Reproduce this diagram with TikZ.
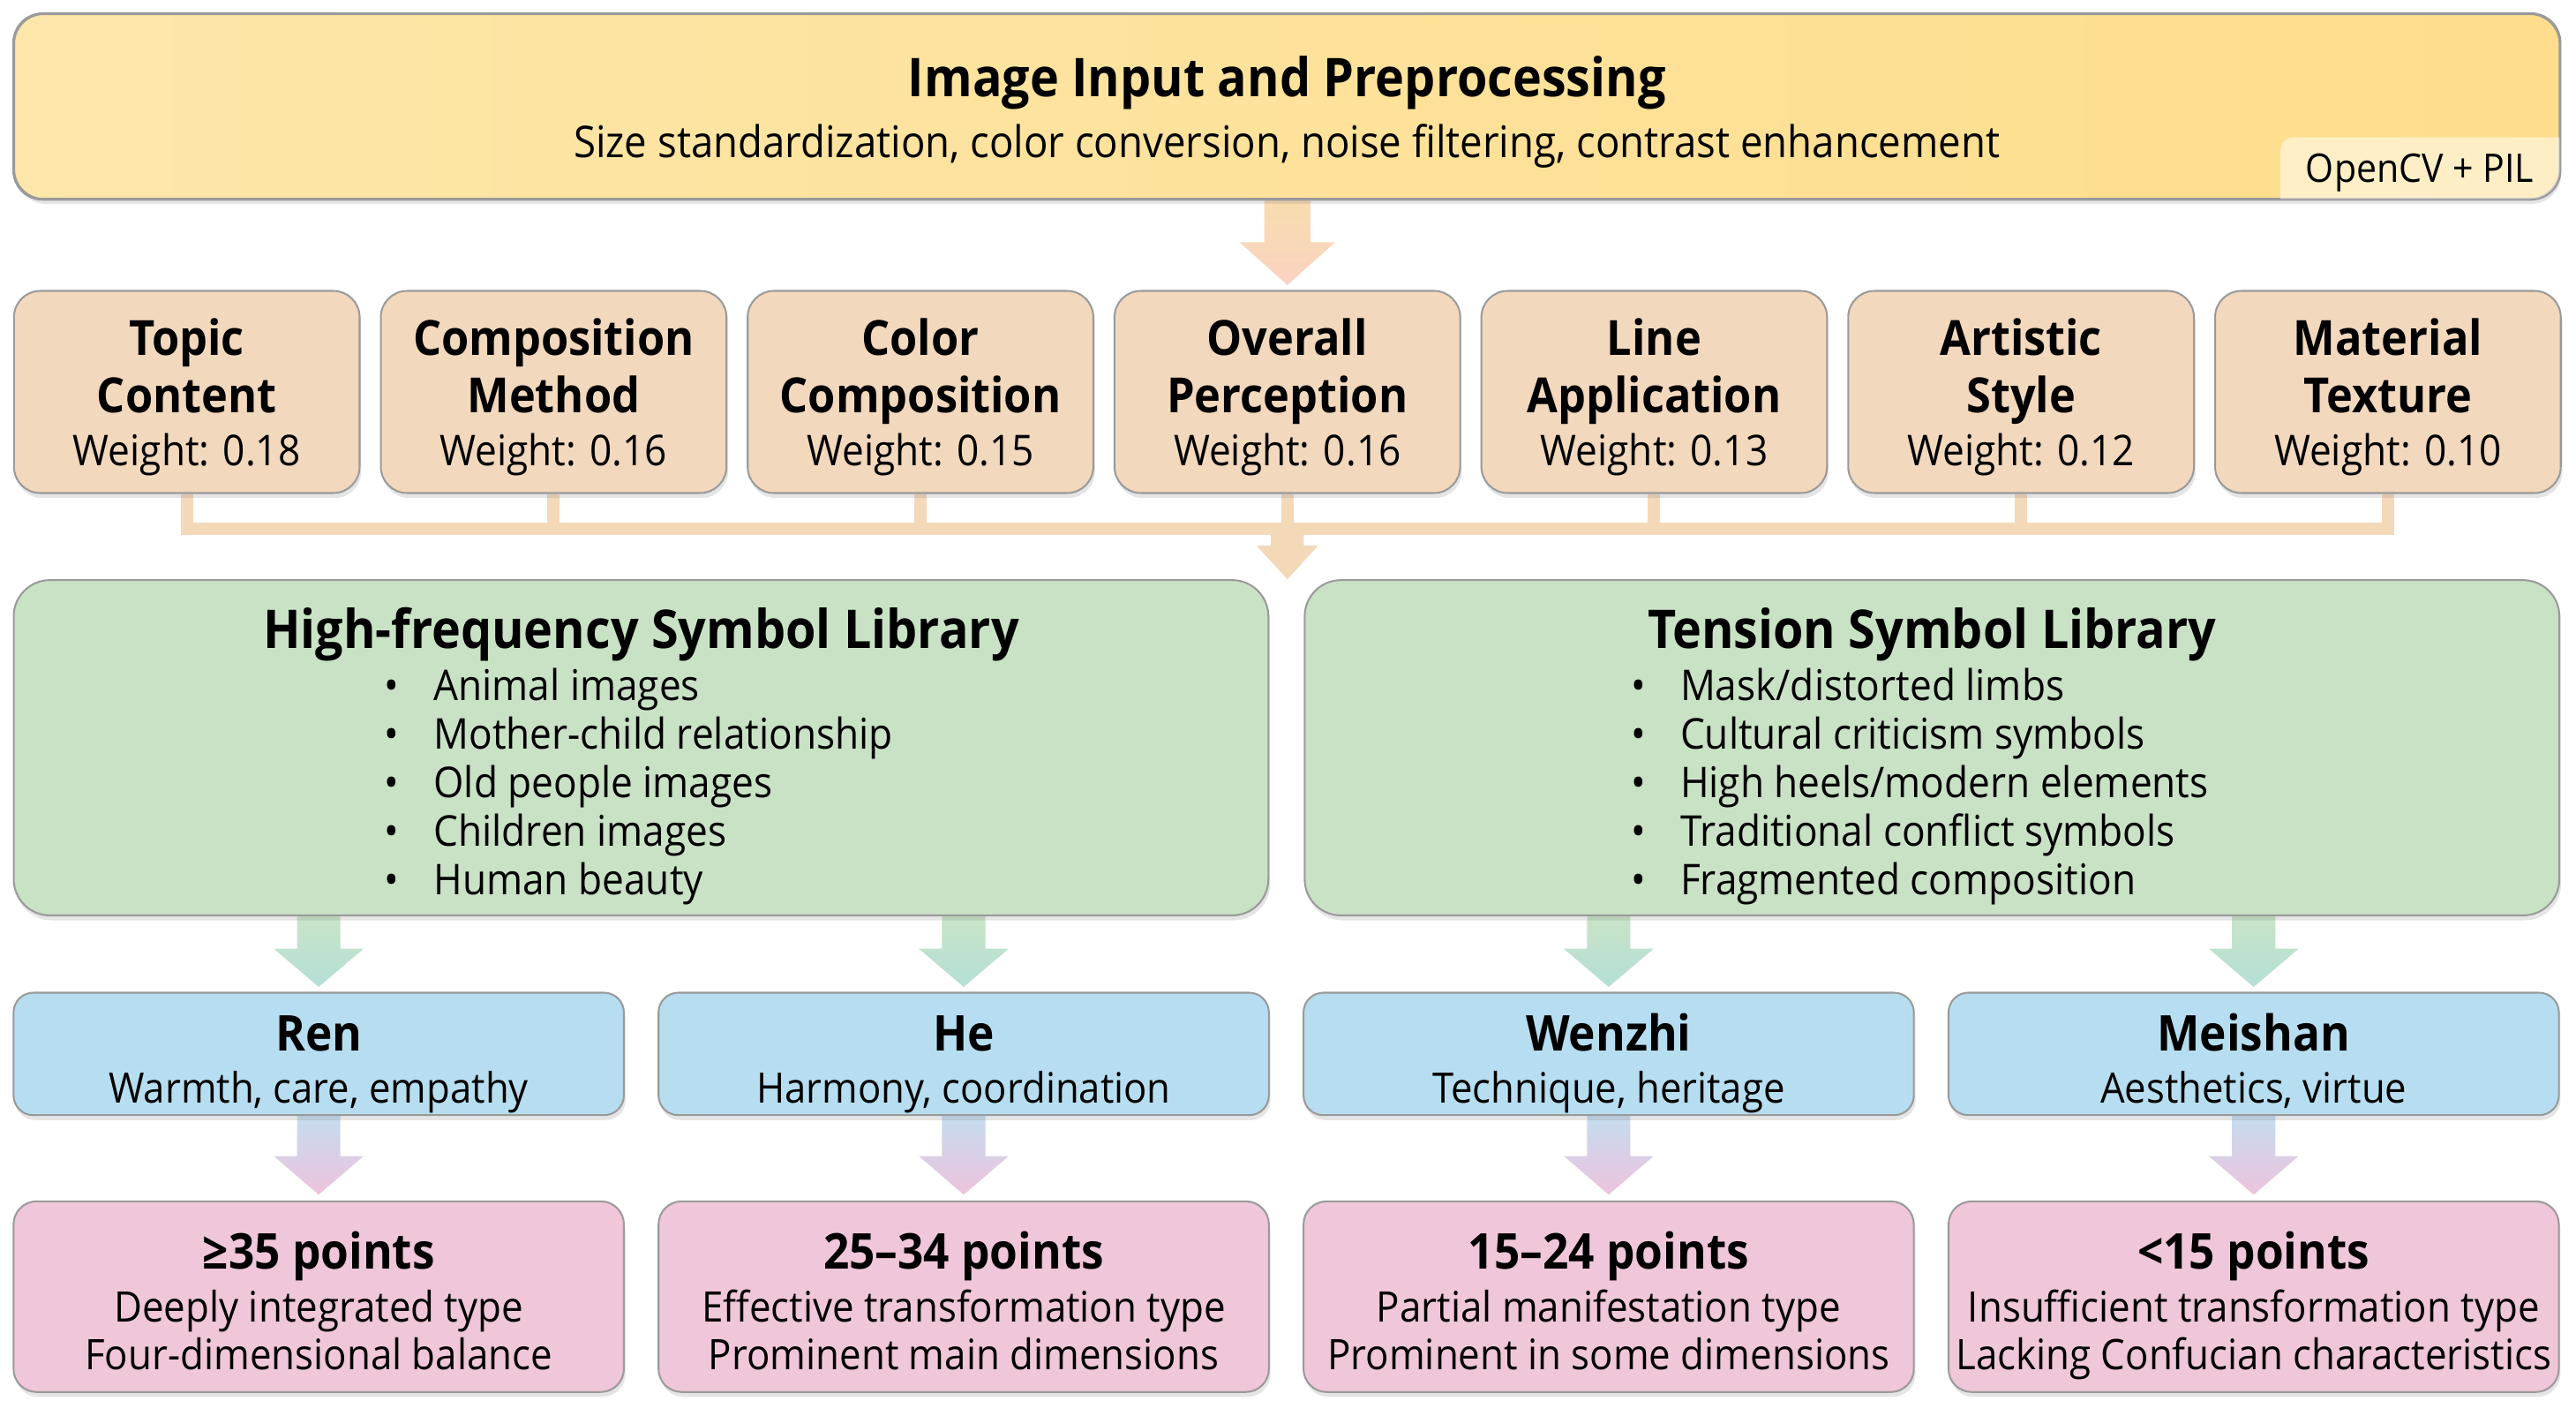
\documentclass[tikz,border=0pt]{standalone}
\usepackage{fontspec}
\setmainfont{Open Sans}[FakeStretch=0.92]
\usetikzlibrary{shadows,calc}
\pgfdeclarelayer{background}
\pgfsetlayers{background,main}

\definecolor{topA}{HTML}{FDE6A9}
\definecolor{topB}{HTML}{FEDE8D}
\definecolor{peach}{HTML}{F2D8BD}
\definecolor{barc}{HTML}{F4D9B9}
\definecolor{greenfill}{HTML}{C9E2C5}
\definecolor{bluefill}{HTML}{B7DEF0}
\definecolor{pinkfill}{HTML}{EFC6DA}
\definecolor{edgec}{HTML}{9A9A9A}
\definecolor{arrA}{HTML}{F8DCAE}
\definecolor{arrB}{HTML}{FAD3C2}
\definecolor{garrA}{HTML}{C9E4C7}
\definecolor{garrB}{HTML}{B4DFD6}
\definecolor{parrA}{HTML}{C5DCEF}
\definecolor{parrB}{HTML}{EDC3DC}

\newcommand\blockarrow[6]{%
  \path[#6] ($(#1)+(-#3,0)$) -- ($(#2)+(-#3,-#5)$) -- ($(#2)+(-#4,-#5)$) -- (#2)
    -- ($(#2)+(#4,-#5)$) -- ($(#2)+(#3,-#5)$) -- ($(#1)+(#3,0)$) -- cycle;}

\tikzset{
  box/.style={draw=edgec, line width=1.1pt, inner sep=0pt,
    drop shadow={opacity=0.2, shadow xshift=1pt, shadow yshift=-3pt}},
  topbox/.style={box, rounded corners=18pt, left color=topA, right color=topB,
    minimum width=1549.4pt, minimum height=112.4pt},
  catbox/.style={box, rounded corners=16pt, fill=peach, minimum width=210.4pt, minimum height=123pt},
  greenbox/.style={box, rounded corners=22pt, fill=greenfill, minimum width=763.7pt, minimum height=204pt},
  bluebox/.style={box, rounded corners=12pt, fill=bluefill, minimum width=371.5pt, minimum height=74.5pt},
  pinkbox/.style={box, rounded corners=14pt, fill=pinkfill, minimum width=371.5pt, minimum height=116pt},
  txt/.style={inner sep=0pt, anchor=base, text=black},
  bigtitle/.style={txt, font=\fontsize{32.5}{38}\selectfont\bfseries},
  subtext/.style={txt, font=\fontsize{26.6}{30}\selectfont},
  cattitle/.style={txt, font=\fontsize{29.5}{34}\selectfont\bfseries},
  catweight/.style={txt, font=\fontsize{25.8}{30}\selectfont},
  itemtext/.style={txt, anchor=base west, font=\fontsize{25.8}{29.5}\selectfont},
  bluetitle/.style={txt, font=\fontsize{30}{34}\selectfont\bfseries},
  bluesub/.style={txt, font=\fontsize{25.5}{30}\selectfont},
  pinktitle/.style={txt, font=\fontsize{30}{34}\selectfont\bfseries},
  pinksub/.style={txt, font=\fontsize{25.6}{30}\selectfont},
  tagtext/.style={txt, anchor=base east, font=\fontsize{24}{28}\selectfont},
  barline/.style={draw=barc, line width=7.5pt},
  toparrow/.style={top color=arrA, bottom color=arrB},
  greenarrow/.style={top color=garrA, bottom color=garrB},
  pinkarrow/.style={top color=parrA, bottom color=parrB}
}
\newcommand\bul{\makebox[30pt][l]{\textbullet}}

\begin{document}
\begin{tikzpicture}[x=1pt,y=-1pt]
\useasboundingbox (0,0) rectangle (1568,861.6);
\begin{pgfonlayer}{background}
  \fill[white] (0,0) rectangle (1568,861.6);
\end{pgfonlayer}

% top box
\node[topbox] (top) at (783.3,64.8) {};
\begin{scope}
  \clip[rounded corners=18pt] (top.south west) rectangle (top.north east);
  \fill[white, fill opacity=0.5, rounded corners=8pt] ($(top.south east)+(-170.4,-38)$) rectangle ($(top.south east)+(30,30)$);
\end{scope}
\draw[edgec, line width=1.1pt, rounded corners=18pt] (top.south west) rectangle (top.north east);
\node[bigtitle] (toptitle) at ($(top.north)+(0,51)$) {Image Input and Preprocessing};
\node[subtext] (topsub) at ($(top.north)+(0,88)$) {Size standardization, color conversion, noise filtering, contrast enhancement};
\node[tagtext] (tag) at ($(top.south east)+(-16,-10.5)$) {OpenCV + PIL};

% category boxes
\foreach \i/\a/\b/\w in {1/Topic/Content/0.18, 2/Composition/Method/0.16, 3/Color/Composition/0.15,
  4/Overall/Perception/0.16, 5/Line/Application/0.13, 6/Artistic/Style/0.12, 7/Material/Texture/0.10}{
  \node[catbox] (c\i) at ({113.7+223.3*(\i-1)},238.5) {};
  \node[cattitle] (c\i a) at ($(c\i.north)+(0,40)$) {\a};
  \node[cattitle] (c\i b) at ($(c\i.north)+(0,74.5)$) {\b};
  \node[catweight] (c\i w) at ($(c\i.north)+(0,107)$) {Weight: \w};
}

% green boxes
\node[greenbox] (gl) at (390.2,455) {};
\node[greenbox] (gr) at (1176,455) {};
\node[bigtitle] (gltitle) at ($(gl.north)+(0,42)$) {High-frequency Symbol Library};
\node[bigtitle] (grtitle) at ($(gr.north)+(0,42)$) {Tension Symbol Library};
\foreach \k/\it in {0/Animal images, 1/Mother-child relationship, 2/Old people images, 3/Children images, 4/Human beauty}
  \node[itemtext] (gli\k) at ($(gl.north west)+(226,{73.7+29.5*\k})$) {\bul\it};
\foreach \k/\it in {0/Mask\slash distorted limbs, 1/Cultural criticism symbols, 2/High heels\slash modern elements, 3/Traditional conflict symbols, 4/Fragmented composition}
  \node[itemtext] (gri\k) at ($(gr.north west)+(199,{73.7+29.5*\k})$) {\bul\it};

% blue boxes
\foreach \i/\nm/\sb in {1/Ren/{Warmth, care, empathy}, 2/He/{Harmony, coordination},
  3/Wenzhi/{Technique, heritage}, 4/Meishan/{Aesthetics, virtue}}{
  \node[bluebox] (b\i) at ({194+392.6*(\i-1)},641.3) {};
  \node[bluetitle] (b\i a) at ($(b\i.north)+(0,36)$) {\nm};
  \node[bluesub] (b\i b) at ($(b\i.north)+(0,67.5)$) {\sb};
}

% pink boxes
\foreach \i/\x in {1/194, 2/586.6, 3/979.2, 4/1371.8}
  \node[pinkbox] (p\i) at (\x,789) {};
\node[pinktitle] (p1a) at ($(p1.north)+(0,41.5)$) {≥35 points};
\node[pinksub] (p1b) at ($(p1.north)+(0,73.8)$) {Deeply integrated type};
\node[pinksub] (p1c) at ($(p1.north)+(0,103)$) {Four-dimensional balance};
\node[pinktitle] (p2a) at ($(p2.north)+(0,41.5)$) {25–34 points};
\node[pinksub] (p2b) at ($(p2.north)+(0,73.8)$) {Effective transformation type};
\node[pinksub] (p2c) at ($(p2.north)+(0,103)$) {Prominent main dimensions};
\node[pinktitle] (p3a) at ($(p3.north)+(0,41.5)$) {15–24 points};
\node[pinksub] (p3b) at ($(p3.north)+(0,73.8)$) {Partial manifestation type};
\node[pinksub] (p3c) at ($(p3.north)+(0,103)$) {Prominent in some dimensions};
\node[pinktitle] (p4a) at ($(p4.north)+(0,41.5)$) {<15 points};
\node[pinksub] (p4b) at ($(p4.north)+(0,73.8)$) {Insufficient transformation type};
\node[pinksub] (p4c) at ($(p4.north)+(0,103)$) {Lacking Confucian characteristics};

% connectors
\begin{pgfonlayer}{background}
  \coordinate (a0s) at (c4.north |- top.south);
  \coordinate (a0e) at ($(c4.north)+(0,-3)$);
  \blockarrow{a0s}{a0e}{14}{29}{26}{toparrow}
  \coordinate (hub) at (c4.south |- 0,322);
  \foreach \i in {1,...,7} \draw[barline] (c\i.south) -- (c\i.south |- hub);
  \draw[barline, line cap=rect] (c1.south |- hub) -- (c7.south |- hub);
  \coordinate (hubtip) at (hub |- gl.north);
  \blockarrow{hub}{hubtip}{10}{18.8}{20.5}{fill=barc}
  \foreach \i/\g in {1/gl,2/gl,3/gr,4/gr}{
    \coordinate (gs\i) at (b\i.north |- \g.south);
    \coordinate (ge\i) at ($(b\i.north)+(0,-3)$);
    \blockarrow{gs\i}{ge\i}{13.2}{27.3}{23.2}{greenarrow}
    \coordinate (ps\i) at (b\i.south);
    \coordinate (pe\i) at ($(p\i.north)+(0,-3.5)$);
    \blockarrow{ps\i}{pe\i}{13.2}{27.3}{23.5}{pinkarrow}
  }
\end{pgfonlayer}
\end{tikzpicture}
\end{document}
